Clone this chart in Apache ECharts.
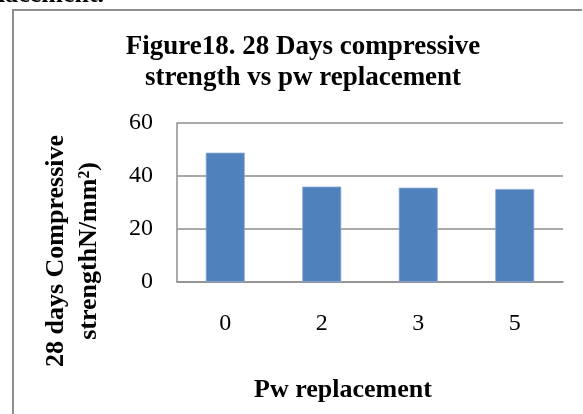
<!DOCTYPE html>
<html>
<head>
<meta charset="utf-8">
<script src="https://cdn.jsdelivr.net/npm/echarts@6/dist/echarts.min.js"></script>
<style>
  html, body { margin: 0; padding: 0; background: #fff; }
  #chart { width: 583px; height: 414px; }
</style>
</head>
<body>
<div id="chart"></div>
<script>
// data
const categories = ['0', '2', '3', '5'];
const strength = [48.8, 36.0, 35.6, 35.1];
const yTicks = { min: 0, max: 60, interval: 20 };

const serif = "'Times New Roman', 'Liberation Serif', serif";
const gray = '#8e8e8e';

let chart = echarts.init(document.getElementById('chart'));
const option = {
  backgroundColor: '#fff',
  animation: false,
  title: {
    text: 'Figure18. 28 Days compressive\nstrength vs pw replacement',
    left: 303,
    top: 32,
    textAlign: 'center',
    padding: 0,
    textStyle: {
      fontFamily: serif,
      fontWeight: 'bold',
      fontSize: 27,
      lineHeight: 31,
      color: '#000'
    }
  },
  grid: { left: 177, right: 20, top: 123, bottom: 132 },
  xAxis: {
    type: 'category',
    data: categories,
    axisLine: { lineStyle: { color: gray, width: 1.5 } },
    axisTick: { show: false },
    axisLabel: { fontFamily: serif, fontSize: 24, color: '#000', margin: 30 }
  },
  yAxis: {
    type: 'value',
    min: yTicks.min,
    max: yTicks.max,
    interval: yTicks.interval,
    axisLine: { show: true, lineStyle: { color: gray, width: 1.5 } },
    axisTick: { show: false },
    splitLine: { lineStyle: { color: gray, width: 1.5 } },
    axisLabel: { fontFamily: serif, fontSize: 24, color: '#000', margin: 24 }
  },
  series: [{
    type: 'bar',
    data: strength,
    barWidth: 39,
    itemStyle: { color: '#4f81bd', borderColor: '#8aa9d3', borderWidth: 0.8 }
  }],
  graphic: [
    // frame around the chart (top and left edges only visible)
    {
      type: 'polyline',
      shape: { points: [[13, 414], [13, 10], [582, 10]] },
      style: { stroke: gray, lineWidth: 2, fill: null }
    },
    // clipped caption text from the page above
    {
      type: 'text',
      x: -2,
      y: -5,
      style: {
        text: 'lacement.',
        font: 'bold 26px ' + serif,
        fill: '#000',
        textAlign: 'left',
        textVerticalAlign: 'middle'
      }
    },
    {
      type: 'text',
      x: 73,
      y: 251,
      rotation: Math.PI / 2,
      style: {
        text: '28 days Compressive\nstrengthN/mm²)',
        font: 'bold 26px ' + serif,
        lineHeight: 33,
        fill: '#000',
        textAlign: 'center',
        textVerticalAlign: 'middle'
      }
    },
    {
      type: 'text',
      x: 343,
      y: 390,
      style: {
        text: 'Pw replacement',
        font: 'bold 26px ' + serif,
        fill: '#000',
        textAlign: 'center',
        textVerticalAlign: 'middle'
      }
    }
  ]
};
chart.setOption(option);
</script>
</body>
</html>
